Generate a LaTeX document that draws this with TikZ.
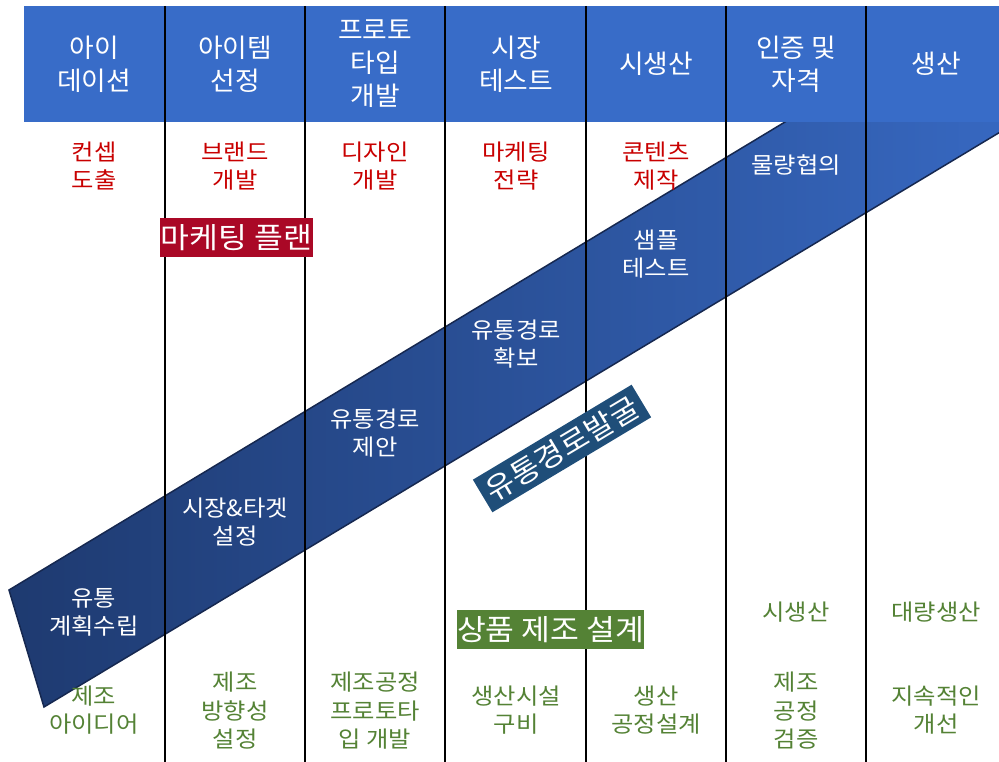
\documentclass[tikz,border=0pt]{standalone}
\usepackage{fontspec}
\setmainfont{Noto Sans CJK KR}
\newfontfamily\widekr[FakeStretch=1.08]{Noto Sans CJK KR}
\newfontfamily\hdrkr[FakeStretch=1.03]{Noto Sans CJK KR}
\definecolor{hdrblue}{RGB}{56,108,200}
\definecolor{banddark}{RGB}{30,58,112}
\definecolor{bandlight}{RGB}{57,108,200}
\definecolor{bandedge}{RGB}{22,40,80}
\definecolor{redtext}{RGB}{200,0,0}
\definecolor{crimson}{RGB}{170,8,38}
\definecolor{greentext}{RGB}{84,130,53}
\definecolor{greenbox}{RGB}{84,130,53}
\definecolor{tealbox}{RGB}{31,78,121}
\tikzset{
  hdr/.style={text=white, align=center, font=\hdrkr\fontsize{26}{33}\selectfont, inner sep=0pt},
  redtxt/.style={text=redtext, align=center, font=\widekr\fontsize{22.5}{28}\selectfont, inner sep=0pt},
  bandtxt/.style={text=white, align=center, font=\widekr\fontsize{22.5}{28}\selectfont, inner sep=0pt},
  greentxt/.style={text=greentext, align=center, font=\widekr\fontsize{22.5}{28.5}\selectfont, inner sep=0pt},
  tag/.style={text=white, font=\widekr\fontsize{29}{30}\selectfont, inner xsep=0pt, inner ysep=0pt, minimum height=39pt},
  sepline/.style={black, line width=1.2pt},
}
\begin{document}
\begin{tikzpicture}[x=1pt,y=-1pt]
\useasboundingbox (0,0) rectangle (999,762);
\begin{scope}
  \clip (0,9) rectangle (999,762);
  \shade[left color=banddark, right color=bandlight, draw=bandedge, line width=1.5pt]
    (9,590) -- (44,707) -- (1100,72) -- (1100,-68) -- cycle;
\end{scope}
\fill[hdrblue] (24,6) rectangle (999,122);
\foreach \x in {165,305,445,586,726,866} \draw[sepline] (\x,6) -- (\x,762);

% header
\node[hdr] (h1) at (94,64) {아이\\데이션};
\node[hdr] (h2) at (235,64) {아이템\\선정};
\node[hdr] (h3) at (375,64) {프로토\\타입\\개발};
\node[hdr] (h4) at (516,64) {시장\\테스트};
\node[hdr] (h5) at (656,64) {시생산};
\node[hdr] (h6) at (796,64) {인증 및\\자격};
\node[hdr] (h7) at (936,64) {생산};

% red row
\node[redtxt] (r1) at (94,166) {컨셉\\도출};
\node[redtxt] (r2) at (235,166) {브랜드\\개발};
\node[redtxt] (r3) at (375,166) {디자인\\개발};
\node[redtxt] (r4) at (516,166) {마케팅\\전략};
\node[redtxt] (r5) at (656,166) {콘텐츠\\제작};

% band texts
\node[bandtxt] (b1) at (94,612) {유통\\계획수립};
\node[bandtxt] (b2) at (235,522) {시장\&타겟\\설정};
\node[bandtxt] (b3) at (375,433) {유통경로\\제안};
\node[bandtxt] (b4) at (516,344) {유통경로\\확보};
\node[bandtxt] (b5) at (656,254) {샘플\\테스트};
\node[bandtxt] (b6) at (796,165) {물량협의};

% green texts
\node[greentxt] (g1) at (796,612) {시생산};
\node[greentxt] (g2) at (936,612) {대량생산};
\node[greentxt] (m1) at (94,710) {제조\\아이디어};
\node[greentxt] (m2) at (235,711) {제조\\방향성\\설정};
\node[greentxt] (m3) at (375,711) {제조공정\\프로토타\\입 개발};
\node[greentxt] (m4) at (516,710) {생산시설\\구비};
\node[greentxt] (m5) at (656,710) {생산\\공정설계};
\node[greentxt] (m6) at (796,711) {제조\\공정\\검증};
\node[greentxt] (m7) at (936,710) {지속적인\\개선};

% tags
\node[tag, fill=crimson, minimum width=153pt] (t1) at (236.5,237.5) {마케팅 플랜};
\node[tag, fill=greenbox, minimum width=187pt] (t2) at (550.5,629.5) {상품 제조 설계};
\node[tag, fill=tealbox, rotate=30.9, minimum width=185pt, minimum height=38pt] (t3) at (562,448.5) {유통경로발굴};
\end{tikzpicture}
\end{document}
